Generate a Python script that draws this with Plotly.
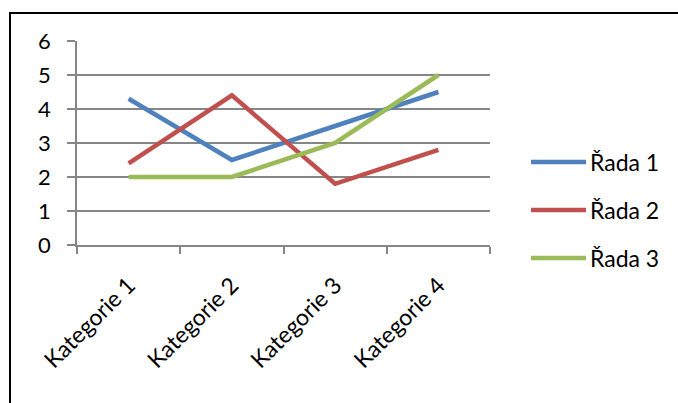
import plotly.graph_objects as go

categories = ["Kategorie 1", "Kategorie 2", "Kategorie 3", "Kategorie 4"]
series_names = ["Řada 1", "Řada 2", "Řada 3"]
rada1 = [4.3, 2.5, 3.5, 4.5]
rada2 = [2.4, 4.4, 1.8, 2.8]
rada3 = [2, 2, 3, 5]
colors = ["#4F81BD", "#C0504D", "#9BBB59"]

FONT = "Lato"
GRID = "#868686"

W, H = 678, 403
L, R, T, B = 77, 188, 41, 158
plot_w = W - L - R
plot_h = H - T - B


def px_x(px):
    return (px - L) / plot_w


def px_y(py):
    return (H - B - py) / plot_h


fig = go.Figure()
for name, vals, col in zip(series_names, [rada1, rada2, rada3], colors):
    fig.add_trace(go.Scatter(
        x=categories, y=vals, name=name, mode="lines",
        line=dict(color=col, width=4.5),
        showlegend=False,
    ))

# hand-drawn legend with longer sample lines
legend_rows = [162, 210, 258]
for name, col, py in zip(series_names, colors, legend_rows):
    fig.add_shape(type="line", xref="paper", yref="paper",
                  x0=px_x(531), x1=px_x(586), y0=px_y(py), y1=px_y(py),
                  line=dict(color=col, width=4.5))
    fig.add_annotation(text=name, xref="paper", yref="paper",
                       x=px_x(588), y=px_y(py), xanchor="left", yanchor="middle",
                       showarrow=False, font=dict(family=FONT, size=23, color="#000"))

# outer chart frame
fig.add_shape(type="rect", xref="paper", yref="paper",
              x0=px_x(10), x1=px_x(720), y0=px_y(440), y1=px_y(13),
              line=dict(color="#000", width=2), layer="below")

fig.update_layout(
    width=W, height=H,
    margin=dict(l=L, r=R, t=T, b=B),
    paper_bgcolor="white", plot_bgcolor="white",
    font=dict(family=FONT, size=23, color="#000"),
    xaxis=dict(
        type="category", tickangle=-45, tickson="boundaries",
        ticks="outside", ticklen=7, tickcolor=GRID, tickwidth=1.5,
        showline=True, linecolor=GRID, linewidth=1.5,
        showgrid=False, range=[-0.5, 3.5], zeroline=False,
        ticklabelstandoff=16,
        tickfont=dict(family=FONT, size=23, color="#000"),
    ),
    yaxis=dict(
        range=[0, 6], dtick=1, tick0=0,
        ticks="outside", ticklen=8, tickcolor=GRID, tickwidth=1.5,
        showline=True, linecolor=GRID, linewidth=1.5,
        showgrid=True, gridcolor=GRID, gridwidth=1.5, zeroline=False,
        ticklabelstandoff=12,
        tickfont=dict(family=FONT, size=22, color="#000"),
    ),
)

fig.write_html("out.html")
